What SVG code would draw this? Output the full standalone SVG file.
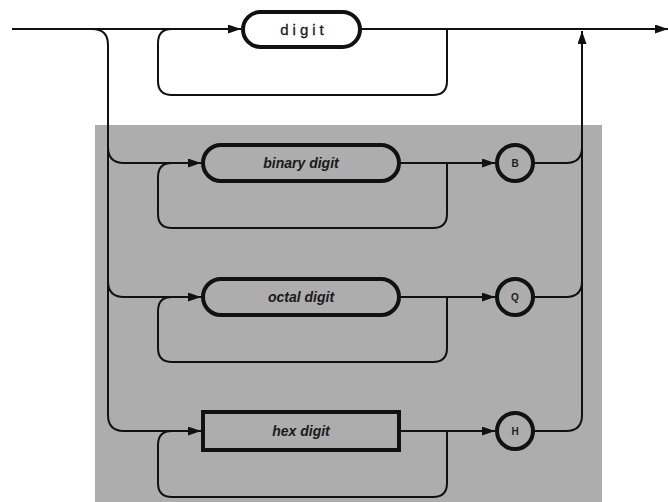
<svg xmlns="http://www.w3.org/2000/svg" width="668" height="502" viewBox="0 0 668 502">
<defs>
<marker id="ah" viewBox="0 0 13 9" refX="13" refY="4.5" markerWidth="13" markerHeight="9" markerUnits="userSpaceOnUse" orient="auto">
<path d="M0,0 L13,4.5 L0,9 Z" fill="#111"/>
</marker>
</defs>
<style>
.ln{fill:none;stroke:#111;stroke-width:2}
.nd{fill:none;stroke:#111;stroke-width:4}
.tx{font-family:"Liberation Sans",Arial,sans-serif;font-weight:bold;font-style:italic;font-size:14px;fill:#1a1a1a;text-anchor:middle}
.mono{font-family:"Liberation Sans",Arial,sans-serif;font-size:15px;letter-spacing:4px;fill:#1a1a1a;stroke:#1a1a1a;stroke-width:0.3;text-anchor:middle}
.sm{font-family:"Liberation Sans",Arial,sans-serif;font-weight:bold;font-size:10px;fill:#222;text-anchor:middle}
</style>
<rect width="668" height="502" fill="#fff"/>
<rect id="panel" x="95" y="125" width="507" height="377" fill="#adadad"/>
<g id="connectors">
<path class="ln" d="M12,29 H241" marker-end="url(#ah)"/>
<path class="ln" d="M360,29 H668" marker-end="url(#ah)"/>
<path class="ln" d="M92,29 Q108,29 108,45 V415 Q108,431 124,431 H201" marker-end="url(#ah)"/>
<path class="ln" d="M447,29 V81 Q447,95 433,95 H172 Q158,95 158,81 V43 Q158,29 172,29"/>
<path class="ln" d="M108,147 Q108,163 124,163 H201" marker-end="url(#ah)"/>
<path class="ln" d="M447,163 V214 Q447,228 433,228 H172 Q158,228 158,214 V177 Q158,163 172,163"/>
<path class="ln" d="M400,163 H495" marker-end="url(#ah)"/>
<path class="ln" d="M533,163 H566 Q582,163 582,147"/>
<path class="ln" d="M108,281 Q108,297 124,297 H201" marker-end="url(#ah)"/>
<path class="ln" d="M447,297 V348 Q447,362 433,362 H172 Q158,362 158,348 V311 Q158,297 172,297"/>
<path class="ln" d="M400,297 H495" marker-end="url(#ah)"/>
<path class="ln" d="M533,297 H566 Q582,297 582,281"/>
<path class="ln" d="M447,431 V483 Q447,497 433,497 H172 Q158,497 158,483 V445 Q158,431 172,431"/>
<path class="ln" d="M400,431 H495" marker-end="url(#ah)"/>
<path class="ln" d="M533,431 H566 Q582,431 582,415 V31" marker-end="url(#ah)"/>
</g>
<g id="digit">
<rect class="nd" x="243" y="12" width="117" height="35" rx="17.5" fill="#fff"/>
<text class="mono" x="304" y="35">digit</text>
</g>
<g id="binary">
<rect class="nd" x="203" y="145" width="196" height="36" rx="18" fill="#adadad"/>
<text class="tx" x="301" y="168">binary digit</text>
</g>
<g id="octal">
<rect class="nd" x="203" y="279" width="196" height="36" rx="18" fill="#adadad"/>
<text class="tx" x="301" y="302">octal digit</text>
</g>
<g id="hex">
<rect class="nd" x="203" y="412" width="196" height="38" fill="#adadad"/>
<text class="tx" x="301" y="436">hex digit</text>
</g>
<g id="B">
<circle class="nd" cx="515" cy="163" r="18"/>
<text class="sm" x="515" y="167">B</text>
</g>
<g id="Q">
<circle class="nd" cx="515" cy="297" r="18"/>
<text class="sm" x="515" y="301">Q</text>
</g>
<g id="H">
<circle class="nd" cx="515" cy="431" r="18"/>
<text class="sm" x="515" y="435">H</text>
</g>
</svg>
